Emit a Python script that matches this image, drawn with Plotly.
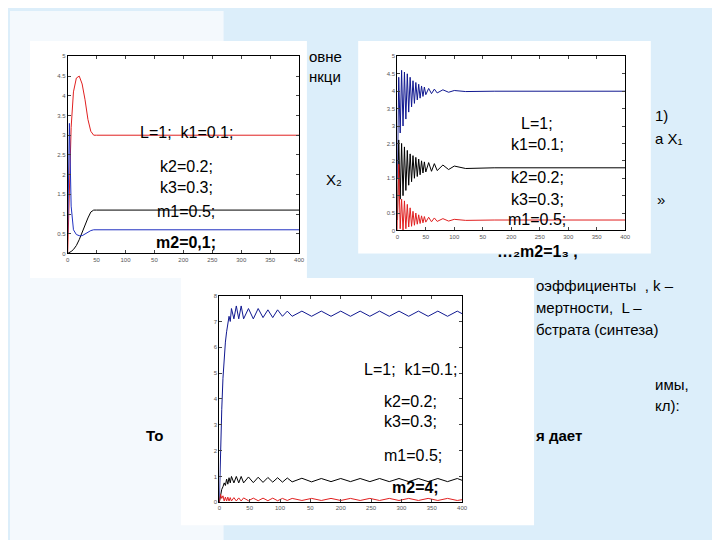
import plotly.graph_objects as go

# --- chart 1 (m2=0,1): smooth settling ---
c1_x = [0, 3, 6, 10, 15, 20, 25, 30, 35, 40, 45, 50, 60, 400]
c1_red = [0, 1.5, 3.2, 4.1, 4.45, 4.5, 4.3, 3.9, 3.4, 3.1, 3.0, 3.0, 3.0, 3.0]
c1_black = [0, 0.02, 0.05, 0.1, 0.2, 0.35, 0.55, 0.75, 0.9, 1.05, 1.1, 1.1, 1.1, 1.1]
c1_blue = [0.5, 3.3, 1.2, 0.6, 0.48, 0.45, 0.45, 0.5, 0.55, 0.58, 0.6, 0.6, 0.6, 0.6]

# --- chart 2 (m2=1): decaying oscillations ---
c2_x = [0, 2.5, 5, 7.5, 10, 12.5, 15, 17.5, 20, 22.5, 25, 27.5, 30, 32.5, 35, 37.5,
        40, 42.5, 45, 47.5, 50, 55, 60, 65, 70, 80, 90, 100, 120, 150, 170, 400]
c2_blue = [1.5, 4.4, 2.8, 4.6, 3.0, 4.55, 3.2, 4.5, 3.4, 4.4, 3.55, 4.3, 3.65, 4.25, 3.75, 4.2,
           3.8, 4.15, 3.85, 4.12, 3.9, 4.08, 3.93, 4.06, 3.95, 4.04, 3.97, 4.02, 3.99, 4.0, 4.0, 4.0]
c2_black = [0.3, 2.6, 0.9, 2.5, 1.0, 2.4, 1.15, 2.3, 1.3, 2.2, 1.4, 2.15, 1.5, 2.1, 1.55, 2.05,
            1.6, 2.0, 1.65, 1.97, 1.68, 1.95, 1.7, 1.92, 1.72, 1.88, 1.75, 1.85, 1.78, 1.8, 1.8, 1.8]
c2_red = [0, 1.9, 0.05, 0.9, 0.0, 0.85, 0.05, 0.75, 0.1, 0.65, 0.12, 0.55, 0.15, 0.5, 0.18, 0.45,
          0.2, 0.42, 0.22, 0.4, 0.24, 0.38, 0.25, 0.36, 0.26, 0.34, 0.27, 0.32, 0.29, 0.3, 0.3, 0.3]

# --- chart 3 (m2=4): sustained oscillations ---
c3_x = [0, 2, 4, 6, 8, 10, 12, 14, 16, 18, 20, 24, 28, 32, 36, 40, 48, 56, 64, 72, 80,
        88, 96, 104, 112, 120, 136, 152, 168, 184, 200, 216, 232, 248, 264, 280, 296,
        312, 328, 344, 360, 376, 392, 400]
c3_blue = [0, 2.2, 3.6, 4.8, 5.6, 6.2, 6.6, 6.9, 7.2, 7.0, 7.5, 7.1, 7.6, 7.1, 7.6, 7.1, 7.5, 7.1,
           7.5, 7.15, 7.45, 7.15, 7.45, 7.2, 7.4, 7.2, 7.4, 7.2, 7.4, 7.2, 7.4, 7.2, 7.4, 7.2,
           7.4, 7.2, 7.4, 7.2, 7.4, 7.2, 7.4, 7.2, 7.4, 7.3]
c3_black = [0, 0.3, 0.5, 0.6, 0.75, 0.65, 0.9, 0.7, 0.95, 0.75, 1.0, 0.75, 1.0, 0.75, 1.0, 0.75,
            0.98, 0.76, 0.97, 0.77, 0.96, 0.78, 0.95, 0.78, 0.94, 0.79, 0.93, 0.79, 0.92, 0.8,
            0.92, 0.8, 0.92, 0.8, 0.92, 0.8, 0.92, 0.8, 0.92, 0.8, 0.92, 0.8, 0.92, 0.85]
c3_red = [0, 0.3, 0.15, 0.25, 0.05, 0.2, 0.05, 0.2, 0.05, 0.18, 0.05, 0.18, 0.05, 0.17, 0.05, 0.17,
          0.06, 0.16, 0.06, 0.16, 0.06, 0.16, 0.06, 0.15, 0.07, 0.15, 0.07, 0.15, 0.07, 0.15,
          0.07, 0.15, 0.07, 0.15, 0.07, 0.15, 0.07, 0.15, 0.07, 0.15, 0.07, 0.15, 0.07, 0.1]

x_ticks = [0, 50, 100, 150, 200, 250, 300, 350, 400]
x_labels = ["0", "50", "100", "50", "200", "250", "300", "350", "400"]

fig = go.Figure()

def add(x, y, color, ax):
    fig.add_trace(go.Scatter(x=x, y=y, mode="lines", line=dict(color=color, width=1),
                             xaxis="x" + ax, yaxis="y" + ax, showlegend=False, hoverinfo="skip"))

add(c1_x, c1_red, "#e02020", "")
add(c1_x, c1_black, "black", "")
add(c1_x, c1_blue, "#2030c0", "")
add(c2_x, c2_blue, "#101890", "2")
add(c2_x, c2_black, "black", "2")
add(c2_x, c2_red, "#e02020", "2")
add(c3_x, c3_blue, "#101890", "3")
add(c3_x, c3_black, "black", "3")
add(c3_x, c3_red, "#e02020", "3")

axis_style = dict(showline=True, linecolor="black", linewidth=1, mirror="ticks", ticks="inside",
                  ticklen=3, showgrid=False, zeroline=False, tickfont=dict(size=6, color="#555"))

fig.update_layout(
    width=720, height=540, margin=dict(l=0, r=0, t=0, b=0),
    paper_bgcolor="#dceefa", plot_bgcolor="white",
    font=dict(family="Liberation Sans, Arial", color="black"),
    xaxis=dict(domain=[0.081, 0.406], range=[0, 400], tickvals=x_ticks, ticktext=x_labels, anchor="y", **axis_style),
    yaxis=dict(domain=[0.546, 0.915], range=[0, 5], dtick=0.5, anchor="x", **axis_style),
    xaxis2=dict(domain=[0.544, 0.864], range=[0, 400], tickvals=x_ticks, ticktext=x_labels, anchor="y2", **axis_style),
    yaxis2=dict(domain=[0.589, 0.915], range=[0, 5], dtick=0.5, anchor="x2", **axis_style),
    xaxis3=dict(domain=[0.294, 0.635], range=[0, 400], tickvals=x_ticks, ticktext=x_labels, anchor="y3", **axis_style),
    yaxis3=dict(domain=[0.080, 0.467], range=[0, 8], dtick=1, anchor="x3", **axis_style),
)

# slide background and white panels behind the charts
panels = [(0, 0, 0.3, 1, "#f4f9fd"), (0.028, 0.5, 0.417, 0.944, "white"),
          (0.489, 0.546, 0.9, 0.944, "white"), (0.24, 0.037, 0.736, 0.5, "white")]
for x0, y0, x1, y1, col in panels:
    fig.add_shape(type="rect", xref="paper", yref="paper", x0=x0, y0=y0, x1=x1, y1=y1,
                  fillcolor=col, line_width=0, layer="below")

def note(px, py, text, size=16, anchor="center"):
    fig.add_annotation(x=px / 720, y=1 - py / 540, xref="paper", yref="paper", text=text,
                       showarrow=False, xanchor=anchor, font=dict(size=size, color="black"))

for px, py, t in [(178, 112, "L=1;  k1=0.1;"), (178, 147, "k2=0.2;"), (178, 168, "k3=0.3;"),
                  (178, 203, "m1=0.5;"), (178, 234, "<b>m2=0,1;</b>"),
                  (533, 103, "L=1;"), (533, 124, "k1=0.1;"), (533, 158, "k2=0.2;"),
                  (533, 180, "k3=0.3;"), (533, 211, "m1=0.5;"), (533, 243, "<b>…₂m2=1₃ ,</b>"),
                  (405, 373, "L=1;  k1=0.1;"), (405, 405, "k2=0.2;"), (405, 426, "k3=0.3;"),
                  (408, 460, "m1=0.5;"), (410, 492, "<b>m2=4;</b>")]:
    note(px, py, t)

# fragments of the slide text peeking out behind the charts
for px, py, t in [(300, 35, "овне"), (300, 56, "нкци"), (318, 160, "X₂"),
                  (650, 95, "1)"), (650, 118, "а X₁"), (652, 180, "»"),
                  (530, 278, "оэффициенты  , k –"), (530, 300, "мертности,  L –"),
                  (530, 322, "бстрата (синтеза)"), (650, 388, "имы,"), (650, 410, "кл):")]:
    note(px, py, t, size=15, anchor="left")
note(135, 440, "<b>То</b>", size=15, anchor="left")
note(530, 440, "<b>я дает</b>", size=15, anchor="left")

fig.write_html("out.html")
